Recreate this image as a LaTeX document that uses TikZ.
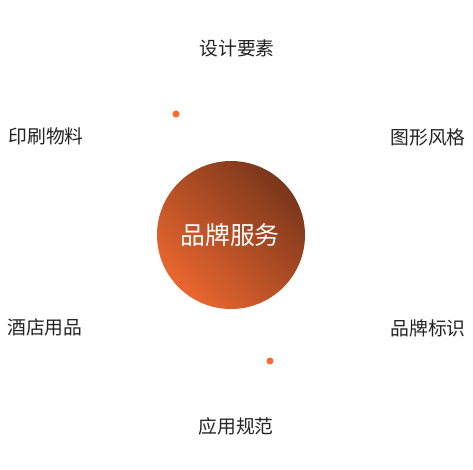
\documentclass[tikz,border=0pt]{standalone}
\usepackage{fontspec}
\newfontfamily\cjk{Noto Sans CJK SC}
\definecolor{warm}{HTML}{EA6630}
\definecolor{deep}{HTML}{7A361A}
\definecolor{dotc}{HTML}{FF6A2A}
\definecolor{txt}{HTML}{222222}
\begin{document}
\begin{tikzpicture}[x=1pt,y=1pt,
  lbl/.style={font=\cjk\fontsize{18.8}{22}\selectfont, text=txt, inner sep=0pt},
  hub/.style={font=\cjk\fontsize{24.8}{28}\selectfont, text=white, inner sep=0pt},
  dotm/.style={circle, fill=dotc, inner sep=0pt, minimum size=7pt}]
\useasboundingbox (0,0) rectangle (473,469);
\shade[left color=warm, right color=deep, shading angle=135] (231,234) circle (74);
\node[hub] (c) at (230,234) {品牌服务};
\node[lbl] (t1) at (237,421) {设计要素};
\node[lbl] (t2) at (46,333) {印刷物料};
\node[lbl] (t3) at (428,332) {图形风格};
\node[lbl] (t4) at (45,142) {酒店用品};
\node[lbl] (t5) at (428,141) {品牌标识};
\node[lbl] (t6) at (236,43) {应用规范};
\node[dotm] (d1) at (176,355) {};
\node[dotm] (d2) at (270,108) {};
\end{tikzpicture}
\end{document}
